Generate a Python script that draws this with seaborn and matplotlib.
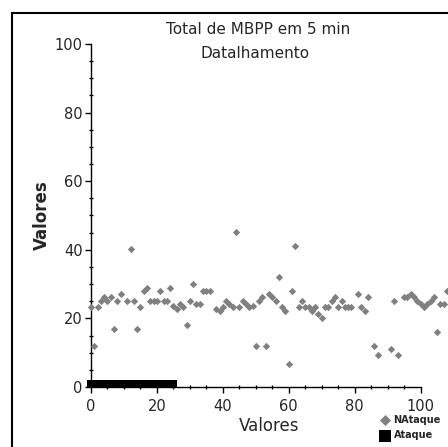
import matplotlib
matplotlib.use("Agg")
import matplotlib.pyplot as plt
from matplotlib.patches import Rectangle
from matplotlib.ticker import MultipleLocator
import pandas as pd
import seaborn as sns

# NAtaque: per-interval MBPP totals
nataque_x = [0, 1, 2, 3, 4, 5, 6, 7, 8, 9, 11, 12, 13, 14, 15, 16, 17, 18, 19, 20,
             21, 22, 23, 24, 25, 26, 27, 28, 29, 30, 31, 32, 33, 34, 35, 36, 38, 39, 40, 41,
             42, 43, 44, 45, 46, 47, 48, 49, 50, 51, 52, 53, 54, 55, 56, 57, 58, 59, 60, 61,
             62, 63, 64, 65, 66, 67, 68, 69, 70, 71, 72, 73, 74, 75, 76, 77, 78, 79, 81, 82,
             83, 84, 86, 87, 91, 92, 93, 95, 96, 97, 98, 99, 100, 101, 102, 103, 104, 105, 106, 107,
             108]
nataque_y = [23.2, 12.0, 23.2, 25.2, 26.1, 25.2, 26.1, 17.0, 25.2, 27.2, 25.2, 40.2, 25.2, 17.0, 23.2, 28.0, 29.0, 25.2, 25.2, 25.2,
             28.0, 25.2, 25.2, 29.0, 23.7, 22.7, 24.2, 23.2, 18.0, 25.2, 30.0, 24.2, 24.2, 28.0, 28.0, 28.0, 22.7, 22.2, 23.2, 25.2,
             24.2, 23.2, 45.1, 23.2, 25.2, 24.2, 23.2, 23.7, 12.0, 25.2, 26.2, 12.0, 27.2, 26.2, 25.2, 32.0, 23.2, 22.2, 6.7, 28.0,
             41.2, 23.2, 25.2, 23.2, 23.2, 22.2, 23.2, 21.2, 20.2, 23.2, 23.2, 25.2, 26.2, 23.2, 25.2, 23.2, 23.2, 23.2, 27.2, 23.2,
             22.2, 26.2, 12.0, 9.2, 11.0, 25.2, 9.2, 26.2, 26.2, 27.2, 26.2, 25.2, 24.2, 23.2, 24.2, 25.2, 26.2, 16.0, 24.2, 24.2,
             28.0]

# Ataque: intervals flagged as attack
ataque_x = list(range(0, 26))
ataque_y = [1] * len(ataque_x)

series_names = ["NAtaque", "Ataque"]
title_lines = ["Total de MBPP em 5 min", "Datalhamento"]
axis_label = "Valores"

df_n = pd.DataFrame({"x": nataque_x, "y": nataque_y})
df_a = pd.DataFrame({"x": ataque_x, "y": ataque_y})

sns.set_style("white")
plt.rcParams["font.family"] = ["DejaVu Sans"]

W, H = 448, 447
fig = plt.figure(figsize=(W / 100, H / 100), dpi=100)
ax = fig.add_axes([91 / W, (H - 387) / H, (W - 91) / W, (387 - 44) / H])
ax.set_facecolor("none")

sns.scatterplot(data=df_a, x="x", y="y", ax=ax, marker="s", s=32, color="black",
                linewidth=0, label=series_names[1], clip_on=False, zorder=3)
sns.scatterplot(data=df_n, x="x", y="y", ax=ax, marker="D", s=14, color="#808080",
                linewidth=0, label=series_names[0], clip_on=False, zorder=4)

ax.set_xlim(0, 108.3)
ax.set_ylim(0, 100)

for side in ["top", "right"]:
    ax.spines[side].set_visible(False)
for side in ["left", "bottom"]:
    ax.spines[side].set_color("black")
    ax.spines[side].set_linewidth(1.0)
ax.spines["left"].set_bounds(0, 100)
ax.spines["bottom"].set_bounds(0, 100)

ax.xaxis.set_major_locator(MultipleLocator(20))
ax.yaxis.set_major_locator(MultipleLocator(20))
ax.yaxis.set_minor_locator(MultipleLocator(5))
ax.set_xticks([0, 20, 40, 60, 80, 100])
ax.set_xticks([v for v in range(5, 100, 5) if v % 20], minor=True)
ax.tick_params(axis="both", which="major", direction="out", length=4, width=1,
               color="black", labelsize=10.5, bottom=True, left=True)
ax.tick_params(axis="x", which="major", pad=4.5)
ax.tick_params(axis="y", which="major", pad=2)
ax.tick_params(axis="both", which="minor", direction="inout", length=3, width=1,
               color="black", bottom=True, left=True)

ax.set_xlabel(axis_label, fontsize=12, labelpad=2)
ax.set_ylabel(axis_label, fontsize=12, fontweight="bold", labelpad=3)

fig.text(258 / W, 1 - 29 / H, title_lines[0], ha="center", va="center", fontsize=11)
fig.text(255 / W, 1 - 54 / H, title_lines[1], ha="center", va="center", fontsize=11)

handles, labels = ax.get_legend_handles_labels()
order = [labels.index(series_names[0]), labels.index(series_names[1])]
leg = ax.legend([handles[i] for i in order], [labels[i] for i in order],
                loc="upper left", bbox_to_anchor=(375 / W, 1 - 410 / H),
                bbox_transform=fig.transFigure, frameon=False,
                prop={"size": 7, "weight": "bold"}, handletextpad=0.3,
                labelspacing=0.55, borderpad=0, handlelength=1.1, markerscale=1.5)

fig.add_artist(Rectangle((12 / W, -0.05), 1.2, 1 - 13 / H + 0.05,
                         transform=fig.transFigure, fill=False,
                         edgecolor="black", linewidth=1.5))

fig.savefig("out.png", dpi=100)
